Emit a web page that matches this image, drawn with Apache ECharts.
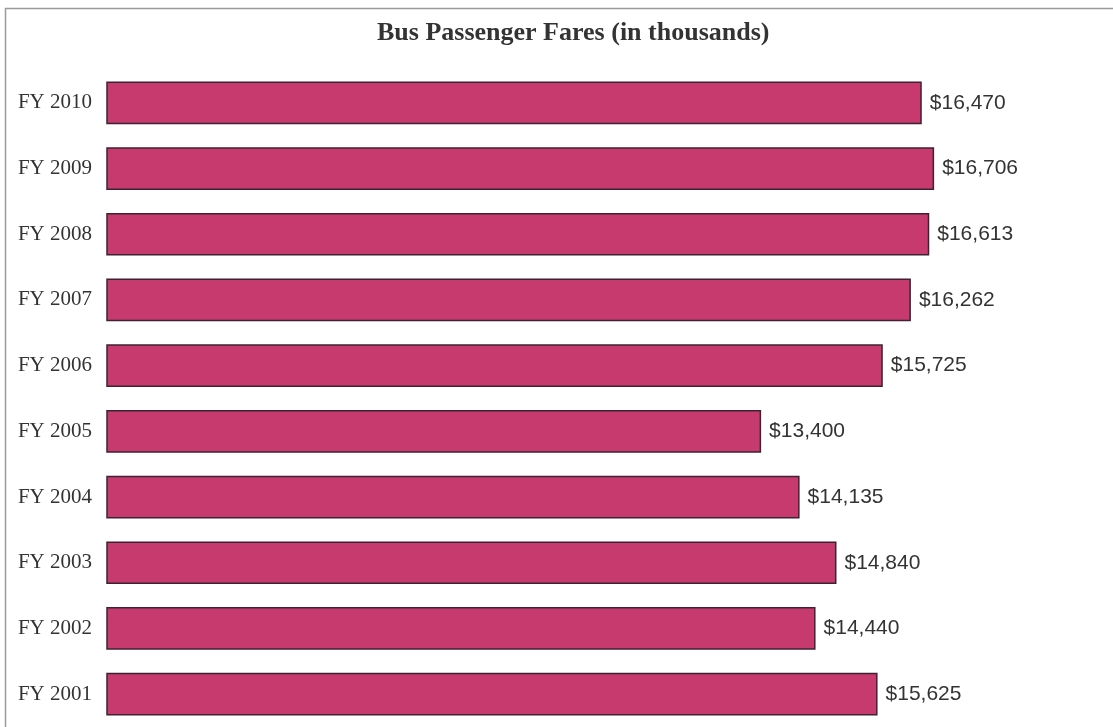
<!DOCTYPE html>
<html>
<head>
<meta charset="utf-8">
<script src="https://cdn.jsdelivr.net/npm/echarts@6/dist/echarts.min.js"></script>
<style>
html,body{margin:0;padding:0;background:#fff;}
#chart{width:1113px;height:727px;}
</style>
</head>
<body>
<div id="chart"></div>
<script>
const categories = ['FY 2010','FY 2009','FY 2008','FY 2007','FY 2006','FY 2005','FY 2004','FY 2003','FY 2002','FY 2001'];
const fares = [16470,16706,16613,16262,15725,13400,14135,14840,14440,15625];
const titleText = 'Bus Passenger Fares (in thousands)';

const chart = echarts.init(document.getElementById('chart'));
chart.setOption({
  animation: false,
  backgroundColor: '#fff',
  title: {
    text: titleText,
    left: 372,
    top: 15,
    textStyle: {fontFamily: 'Liberation Serif', fontWeight: 'bold', fontSize: 26, color: '#333'}
  },
  graphic: [{
    type: 'rect',
    shape: {x: 5.5, y: 8.5, width: 1200, height: 800},
    style: {fill: 'none', stroke: '#9a9a9a', lineWidth: 1.5},
    silent: true
  }],
  grid: {left: 107, top: 70, height: 666, width: 999.5},
  xAxis: {
    type: 'value', min: 900, max: 20000,
    show: false
  },
  yAxis: {
    type: 'category', data: categories, inverse: true,
    axisLine: {show: false}, axisTick: {show: false},
    axisLabel: {fontFamily: 'Liberation Serif', fontSize: 21, color: '#333', margin: 15}
  },
  series: [{
    type: 'bar',
    data: fares,
    barWidth: '65%',
    itemStyle: {color: '#c63a6e', borderColor: '#3e2232', borderWidth: 1.5},
    label: {
      show: true, position: 'right', distance: 8,
      fontFamily: 'Liberation Sans', fontSize: 21, color: '#333',
      formatter: p => '$' + p.value.toLocaleString('en-US')
    }
  }]
});
</script>
</body>
</html>
